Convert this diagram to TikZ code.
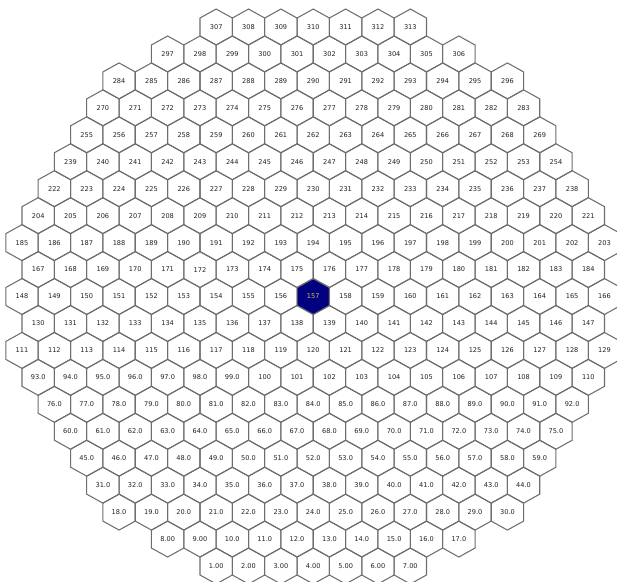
\documentclass[tikz,border=0pt]{standalone}
\usepackage{fontspec}
\setmainfont{DejaVu Sans}
\definecolor{hexgray}{RGB}{110,110,110}
\definecolor{labgray}{RGB}{35,35,35}
\definecolor{navyhex}{RGB}{0,0,128}
\definecolor{hotlabel}{RGB}{205,200,95}
\newcount\hexcnt
\begin{document}
\begin{tikzpicture}[x=1pt,y=-1pt,
  hexline/.style={draw=hexgray, line width=1.05pt, line join=miter},
  hexlabel/.style={font=\fontsize{6.6}{8}\selectfont, inner sep=0pt}]
\path[use as bounding box] (0,0) rectangle (617,581);
\fill[white] (0,0) rectangle (617,581);
\clip (0,0) rectangle (617,581);
\global\hexcnt=0
\foreach \r/\kmin/\kmax in {0/12/24,1/9/27,2/6/30,3/5/31,4/4/32,5/3/33,6/2/34,7/1/35,8/0/36,9/1/35,10/0/36,11/1/35,12/0/36,13/1/35,14/2/34,15/3/33,16/4/32,17/5/31,18/6/30,19/9/27,20/12/24}{
  \pgfmathtruncatemacro\ksec{\kmin+2}
  \foreach \k in {\kmin,\ksec,...,\kmax}{
    \global\advance\hexcnt by 1
    \pgfmathtruncatemacro\n{\the\hexcnt}
    \pgfmathsetmacro\cx{22+16.18*\k}
    \pgfmathsetmacro\cy{566-26.95*\r}
    \ifnum\n<10 \edef\lab{\n.00}\else\ifnum\n<100 \edef\lab{\n.0}\else\edef\lab{\n}\fi\fi
    \ifnum\n=157 \def\hexfill{navyhex}\def\labcol{hotlabel}\else\def\hexfill{none}\def\labcol{labgray}\fi
    \coordinate (c\n) at (\cx,\cy);
    \path[hexline, fill=\hexfill] (c\n) +(0,-17.97) -- +(16.18,-8.98) -- +(16.18,8.98) -- +(0,17.97) -- +(-16.18,8.98) -- +(-16.18,-8.98) -- cycle;
    \node[hexlabel, text=\labcol] (h\n) at (c\n) {\lab};
  }
}
\end{tikzpicture}
\end{document}
